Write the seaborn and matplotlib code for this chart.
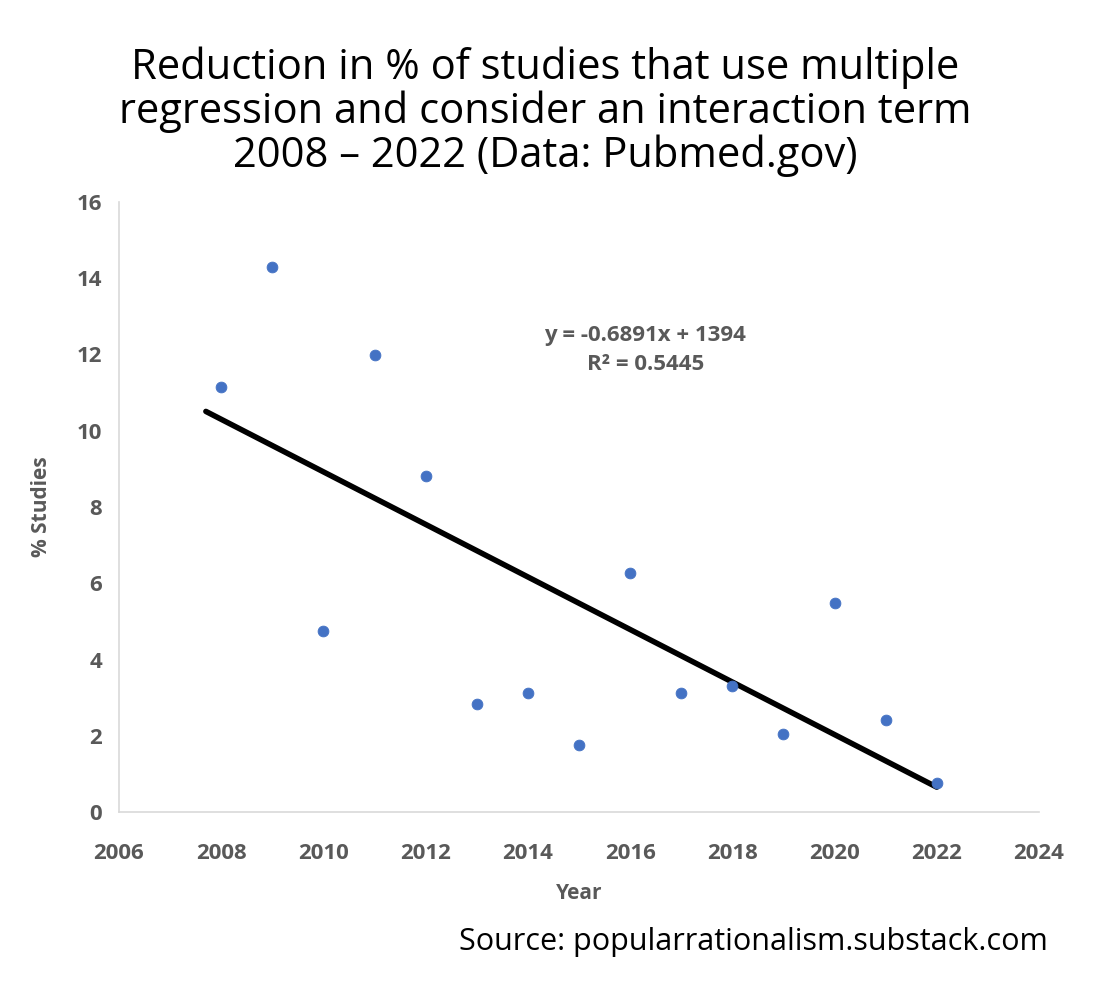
import matplotlib
matplotlib.use("Agg")
import matplotlib.pyplot as plt
import seaborn as sns
import numpy as np
import pandas as pd

years = [2008, 2009, 2010, 2011, 2012, 2013, 2014, 2015, 2016, 2017, 2018, 2019, 2020, 2021, 2022]
pct = [11.15, 14.3, 4.75, 12.0, 8.82, 2.83, 3.12, 1.76, 6.27, 3.12, 3.31, 2.05, 5.49, 2.41, 0.76]
x_ticks = [2006, 2008, 2010, 2012, 2014, 2016, 2018, 2020, 2022, 2024]
y_ticks = [0, 2, 4, 6, 8, 10, 12, 14, 16]

sns.set_theme(style="white")
plt.rcParams['font.family'] = ['Open Sans', 'DejaVu Sans']
df = pd.DataFrame({"Year": years, "pct": pct})

fig = plt.figure(figsize=(11.14, 9.86), dpi=100)
ax = fig.add_axes([119/1114, 1-812/986, 920/1114, 610/986])
sns.scatterplot(data=df, x="Year", y="pct", color="#4472C4", s=60, edgecolor="#4472C4", ax=ax, zorder=3)

m, b = np.polyfit(years, pct, 1)
xs = np.array([2007.7, 2022.0])
ax.plot(xs, m*xs + b, color="black", lw=4, zorder=2)

ax.set_xlim(2006, 2024)
ax.set_ylim(0, 16)
ax.set_xticks(x_ticks)
ax.set_yticks(y_ticks)
gray = "#595959"
ax.tick_params(axis="both", labelsize=16, colors=gray, length=0)
ax.tick_params(axis="x", pad=22)
ax.tick_params(axis="y", pad=12)
for lab in ax.get_xticklabels() + ax.get_yticklabels():
    lab.set_fontweight("bold")
for s in ["top", "right"]:
    ax.spines[s].set_visible(False)
for s in ["left", "bottom"]:
    ax.spines[s].set_color("#D9D9D9")
    ax.spines[s].set_linewidth(1.2)
ax.set_xlabel("Year", fontsize=15, color=gray, fontweight="bold", labelpad=14)
ax.set_ylabel("% Studies", fontsize=15, color=gray, fontweight="bold", labelpad=18)

ax.text(2016.3, 12.12, "y = -0.6891x + 1394\nR² = 0.5445", ha="center", va="center",
        fontsize=16, color=gray, fontweight="bold", linespacing=1.5)

fig.text(545/1114, 1-112/986,
         "Reduction in % of studies that use multiple\nregression and consider an interaction term\n2008 – 2022 (Data: Pubmed.gov)",
         ha="center", va="center", fontsize=30, color="black", linespacing=1.05)
fig.text(1048/1114, 1-942/986, "Source: popularrationalism.substack.com", ha="right", va="center",
         fontsize=22, color="black")

fig.savefig("out.png", dpi=100)
